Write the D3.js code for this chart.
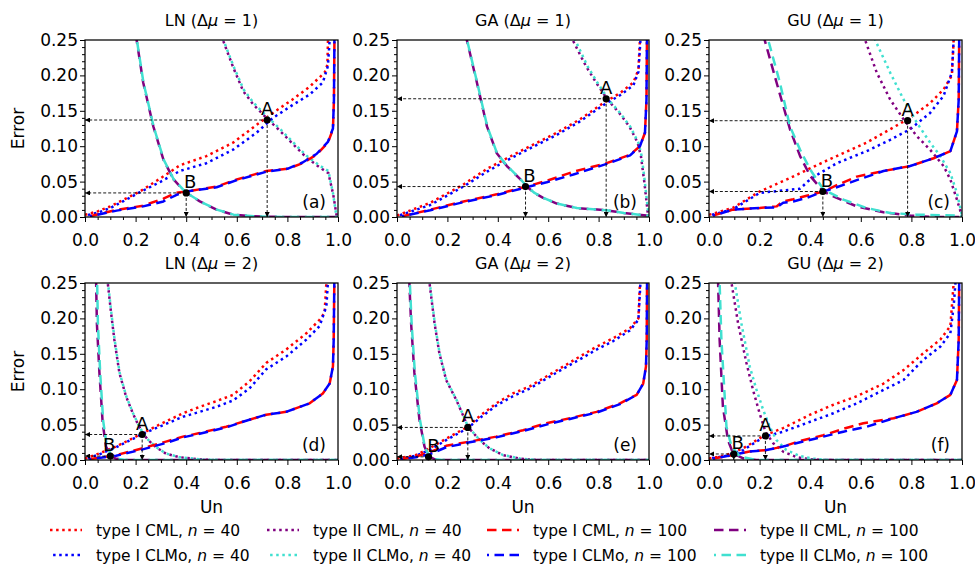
<!DOCTYPE html>
<html><head><meta charset="utf-8">
<script src="https://cdn.jsdelivr.net/npm/d3@7"></script>
<style>
body{margin:0;background:#fff}
svg{display:block;font-family:"DejaVu Sans",sans-serif}
</style>
</head><body>
<svg id="c" width="975" height="565"></svg>
<script>
// ---------------- DATA ----------------
const panelNames = ["LN", "GA", "GU", "LN", "GA", "GU"];
const deltaMu = [1, 1, 1, 2, 2, 2];
const panelTags = ["(a)", "(b)", "(c)", "(d)", "(e)", "(f)"];
const xTickValues = [0, 0.2, 0.4, 0.6, 0.8, 1.0];
const yTickValues = [0, 0.05, 0.10, 0.15, 0.20, 0.25];
const legendMethod = ["type I CML, ", "type I CLMo, ", "type II CML, ", "type II CLMo, ", "type I CML, ", "type I CLMo, ", "type II CML, ", "type II CLMo, "];
const legendN = ["40", "40", "40", "40", "100", "100", "100", "100"];

// points A and B [Un, Error]
const pointsA = [[0.72, 0.137], [0.83, 0.167], [0.785, 0.136], [0.226, 0.036], [0.281, 0.046], [0.223, 0.034]];
const pointsB = [[0.40, 0.034], [0.51, 0.043], [0.45, 0.036], [0.10, 0.0055], [0.125, 0.0045], [0.098, 0.0085]];

// Panel (a) LN, Δμ=1
const LN1_I_CML_40 = [[0,0.003],[0.05,0.008],[0.1,0.015],[0.15,0.024],[0.217,0.036],[0.3,0.055],[0.375,0.073],[0.48,0.086],[0.585,0.105],[0.678,0.13],[0.743,0.147],[0.82,0.166],[0.888,0.184],[0.947,0.204],[0.958,0.215],[0.964,0.3]];
const LN1_I_CLMo_40 = [[0,0.002],[0.05,0.006],[0.1,0.0127],[0.15,0.022],[0.217,0.035],[0.3,0.05],[0.375,0.065],[0.48,0.076],[0.585,0.095],[0.678,0.119],[0.743,0.14],[0.82,0.158],[0.888,0.173],[0.94,0.19],[0.96,0.213],[0.967,0.25],[0.969,0.3]];
const LN1_II_CML_40 = [[0.538,0.3],[0.545,0.25],[0.585,0.212],[0.625,0.178],[0.665,0.159],[0.717,0.14],[0.77,0.122],[0.822,0.103],[0.875,0.084],[0.928,0.07],[0.962,0.062],[0.981,0.032],[0.994,0.003],[1,0]];
const LN1_II_CLMo_40 = [[0.54,0.3],[0.547,0.25],[0.587,0.213],[0.627,0.18],[0.667,0.161],[0.719,0.142],[0.772,0.124],[0.824,0.105],[0.877,0.086],[0.93,0.072],[0.962,0.065],[0.98,0.034],[0.993,0.003],[1,0]];
const LN1_I_CML_100 = [[0.02,0.001],[0.125,0.01],[0.23,0.016],[0.31,0.026],[0.36,0.034],[0.4,0.036],[0.52,0.043],[0.6,0.053],[0.717,0.065],[0.8,0.068],[0.86,0.076],[0.915,0.088],[0.96,0.105],[0.98,0.124],[0.984,0.166],[0.987,0.3]];
const LN1_I_CLMo_100 = [[0.02,0.001],[0.125,0.009],[0.23,0.015],[0.31,0.022],[0.36,0.031],[0.4,0.036],[0.52,0.042],[0.6,0.052],[0.717,0.064],[0.8,0.068],[0.86,0.077],[0.915,0.089],[0.96,0.106],[0.98,0.125],[0.984,0.166],[0.987,0.3]];
const LN1_II_CML_100 = [[0.2,0.3],[0.204,0.25],[0.23,0.19],[0.27,0.128],[0.31,0.081],[0.35,0.053],[0.397,0.035],[0.454,0.022],[0.52,0.0104],[0.586,0.0033],[0.665,0.001],[0.78,0],[1,0]];
const LN1_II_CLMo_100 = [[0.201,0.3],[0.205,0.25],[0.231,0.19],[0.271,0.128],[0.311,0.081],[0.351,0.053],[0.398,0.035],[0.455,0.022],[0.521,0.0104],[0.587,0.0033],[0.666,0.001],[0.78,0],[1,0]];

// Panel (b) GA, Δμ=1
const GA1_I_CML_40 = [[0,0.002],[0.132,0.02],[0.264,0.046],[0.357,0.068],[0.436,0.083],[0.528,0.1],[0.634,0.119],[0.726,0.138],[0.819,0.161],[0.885,0.175],[0.938,0.19],[0.958,0.208],[0.964,0.25],[0.965,0.3]];
const GA1_I_CLMo_40 = [[0,0.001],[0.132,0.017],[0.264,0.043],[0.357,0.064],[0.436,0.08],[0.528,0.097],[0.634,0.116],[0.726,0.135],[0.819,0.158],[0.885,0.172],[0.938,0.186],[0.958,0.205],[0.966,0.25],[0.967,0.3]];
const GA1_II_CML_40 = [[0.69,0.3],[0.697,0.25],[0.75,0.213],[0.79,0.19],[0.835,0.166],[0.882,0.147],[0.922,0.128],[0.955,0.105],[0.968,0.086],[0.982,0.048],[0.995,0.006],[1,0]];
const GA1_II_CLMo_40 = [[0.7,0.3],[0.707,0.25],[0.756,0.213],[0.795,0.19],[0.839,0.166],[0.885,0.147],[0.925,0.128],[0.958,0.105],[0.971,0.086],[0.984,0.048],[0.997,0.006],[1,0]];
const GA1_I_CML_100 = [[0.02,0.001],[0.132,0.0104],[0.264,0.022],[0.396,0.032],[0.502,0.042],[0.594,0.051],[0.7,0.064],[0.832,0.076],[0.925,0.088],[0.964,0.1],[0.984,0.119],[0.99,0.166],[0.993,0.3]];
const GA1_I_CLMo_100 = [[0.02,0.001],[0.132,0.0095],[0.264,0.021],[0.396,0.031],[0.502,0.041],[0.594,0.049],[0.7,0.06],[0.832,0.075],[0.925,0.087],[0.964,0.1],[0.984,0.119],[0.99,0.166],[0.993,0.3]];
const GA1_II_CML_100 = [[0.273,0.3],[0.277,0.25],[0.317,0.19],[0.357,0.128],[0.396,0.09],[0.436,0.072],[0.456,0.065],[0.49,0.053],[0.515,0.043],[0.545,0.034],[0.58,0.027],[0.634,0.019],[0.713,0.0127],[0.832,0.0094],[0.9,0.0057],[0.99,0.002],[1,0.001]];
const GA1_II_CLMo_100 = [[0.274,0.3],[0.278,0.25],[0.318,0.19],[0.358,0.128],[0.397,0.09],[0.437,0.072],[0.457,0.065],[0.491,0.053],[0.516,0.043],[0.546,0.034],[0.581,0.027],[0.635,0.019],[0.714,0.0127],[0.833,0.0094],[0.9,0.0057],[0.99,0.002],[1,0.001]];

// Panel (c) GU, Δμ=1
const GU1_I_CML_40 = [[0,0.003],[0.095,0.013],[0.2,0.036],[0.32,0.055],[0.425,0.073],[0.505,0.086],[0.623,0.105],[0.716,0.124],[0.795,0.14],[0.874,0.161],[0.927,0.18],[0.96,0.2],[0.967,0.25],[0.968,0.3]];
const GU1_I_CLMo_40 = [[0,0.002],[0.095,0.011],[0.2,0.034],[0.28,0.037],[0.36,0.04],[0.39,0.05],[0.42,0.058],[0.505,0.076],[0.623,0.093],[0.716,0.109],[0.795,0.124],[0.874,0.147],[0.927,0.171],[0.96,0.204],[0.967,0.25],[0.968,0.3]];
const GU1_II_CML_40 = [[0.61,0.3],[0.617,0.25],[0.663,0.204],[0.716,0.166],[0.769,0.138],[0.822,0.114],[0.874,0.095],[0.927,0.072],[0.954,0.053],[0.98,0.0245],[1,0.001]];
const GU1_II_CLMo_40 = [[0.65,0.3],[0.657,0.25],[0.716,0.204],[0.769,0.166],[0.822,0.133],[0.874,0.105],[0.914,0.086],[0.954,0.062],[0.98,0.034],[1,0.002]];
const GU1_I_CML_100 = [[0.016,0.002],[0.095,0.0104],[0.2,0.0127],[0.267,0.015],[0.293,0.022],[0.333,0.025],[0.386,0.03],[0.452,0.036],[0.505,0.045],[0.584,0.057],[0.69,0.065],[0.795,0.072],[0.888,0.083],[0.954,0.093],[0.98,0.121],[0.987,0.166],[0.99,0.3]];
const GU1_I_CLMo_100 = [[0.016,0.002],[0.095,0.0104],[0.2,0.0127],[0.267,0.0135],[0.293,0.02],[0.333,0.022],[0.386,0.027],[0.452,0.036],[0.505,0.042],[0.584,0.052],[0.69,0.065],[0.795,0.072],[0.888,0.083],[0.954,0.093],[0.98,0.121],[0.987,0.166],[0.99,0.3]];
const GU1_II_CML_100 = [[0.217,0.3],[0.22,0.25],[0.267,0.19],[0.32,0.124],[0.36,0.086],[0.4,0.058],[0.452,0.036],[0.505,0.027],[0.584,0.015],[0.69,0.0066],[0.795,0.002],[0.89,0],[1,0]];
const GU1_II_CLMo_100 = [[0.23,0.3],[0.234,0.25],[0.28,0.19],[0.32,0.128],[0.36,0.095],[0.4,0.067],[0.452,0.039],[0.531,0.0245],[0.623,0.0127],[0.716,0.0057],[0.82,0.0033],[0.99,0.002],[1,0.001]];

// Panel (d) LN, Δμ=2
const LN2_I_CML_40 = [[0,0.002],[0.057,0.0094],[0.123,0.019],[0.19,0.031],[0.228,0.038],[0.294,0.05],[0.387,0.066],[0.453,0.075],[0.518,0.083],[0.585,0.092],[0.65,0.111],[0.716,0.137],[0.795,0.156],[0.875,0.179],[0.927,0.198],[0.947,0.208],[0.954,0.25],[0.956,0.3]];
const LN2_I_CLMo_40 = [[0,0.001],[0.057,0.008],[0.123,0.018],[0.19,0.03],[0.228,0.037],[0.294,0.047],[0.387,0.061],[0.453,0.068],[0.518,0.075],[0.585,0.084],[0.65,0.101],[0.716,0.128],[0.795,0.146],[0.875,0.17],[0.927,0.189],[0.954,0.217],[0.96,0.25],[0.962,0.3]];
const LN2_II_CML_40 = [[0.088,0.3],[0.09,0.25],[0.103,0.208],[0.116,0.17],[0.136,0.123],[0.162,0.09],[0.189,0.066],[0.21,0.05],[0.228,0.038],[0.25,0.028],[0.281,0.018],[0.32,0.009],[0.373,0.004],[0.452,0.001],[0.5,0],[1,0]];
const LN2_II_CLMo_40 = [[0.089,0.3],[0.091,0.25],[0.104,0.208],[0.117,0.17],[0.137,0.123],[0.163,0.09],[0.19,0.066],[0.211,0.05],[0.229,0.038],[0.251,0.028],[0.282,0.018],[0.321,0.009],[0.374,0.004],[0.453,0.001],[0.5,0],[1,0]];
const LN2_I_CML_100 = [[0.017,0.001],[0.123,0.007],[0.228,0.0165],[0.32,0.026],[0.387,0.033],[0.453,0.038],[0.558,0.047],[0.624,0.054],[0.716,0.064],[0.795,0.068],[0.888,0.08],[0.94,0.094],[0.967,0.108],[0.98,0.132],[0.983,0.17],[0.987,0.3]];
const LN2_I_CLMo_100 = [[0.017,0.001],[0.123,0.006],[0.228,0.015],[0.32,0.024],[0.387,0.032],[0.453,0.037],[0.558,0.046],[0.624,0.054],[0.716,0.064],[0.795,0.068],[0.888,0.08],[0.94,0.094],[0.967,0.108],[0.98,0.132],[0.983,0.17],[0.987,0.3]];
const LN2_II_CML_100 = [[0.043,0.3],[0.044,0.25],[0.047,0.193],[0.057,0.123],[0.07,0.052],[0.083,0.019],[0.1,0.007],[0.12,0.002],[0.16,0],[1,0]];
const LN2_II_CLMo_100 = [[0.047,0.3],[0.048,0.25],[0.051,0.193],[0.06,0.123],[0.072,0.055],[0.086,0.02],[0.102,0.007],[0.122,0.002],[0.16,0],[1,0]];

// Panel (e) GA, Δμ=2
const GA2_I_CML_40 = [[0,0.002],[0.076,0.007],[0.129,0.0165],[0.195,0.03],[0.281,0.047],[0.328,0.062],[0.394,0.08],[0.46,0.094],[0.527,0.104],[0.593,0.118],[0.66,0.132],[0.725,0.146],[0.792,0.16],[0.858,0.172],[0.924,0.186],[0.958,0.2],[0.964,0.25],[0.965,0.3]];
const GA2_I_CLMo_40 = [[0,0.001],[0.076,0.006],[0.129,0.014],[0.195,0.028],[0.281,0.045],[0.328,0.059],[0.394,0.077],[0.46,0.09],[0.527,0.101],[0.593,0.115],[0.66,0.129],[0.725,0.142],[0.792,0.156],[0.858,0.168],[0.924,0.183],[0.958,0.198],[0.966,0.25],[0.967,0.3]];
const GA2_II_CML_40 = [[0.127,0.3],[0.129,0.25],[0.149,0.193],[0.168,0.151],[0.195,0.113],[0.235,0.085],[0.261,0.064],[0.281,0.047],[0.328,0.028],[0.367,0.0165],[0.42,0.007],[0.487,0.002],[0.553,0],[1,0]];
const GA2_II_CLMo_40 = [[0.128,0.3],[0.13,0.25],[0.15,0.193],[0.169,0.151],[0.196,0.113],[0.236,0.085],[0.262,0.064],[0.282,0.047],[0.329,0.028],[0.368,0.0165],[0.421,0.007],[0.488,0.002],[0.553,0],[1,0]];
const GA2_I_CML_100 = [[0.016,0.001],[0.076,0.005],[0.129,0.011],[0.195,0.02],[0.288,0.026],[0.394,0.033],[0.5,0.042],[0.593,0.052],[0.686,0.059],[0.792,0.068],[0.885,0.08],[0.951,0.092],[0.977,0.108],[0.988,0.132],[0.991,0.17],[0.993,0.3]];
const GA2_I_CLMo_100 = [[0.016,0.001],[0.076,0.004],[0.129,0.008],[0.195,0.018],[0.288,0.025],[0.394,0.032],[0.5,0.041],[0.593,0.05],[0.686,0.058],[0.792,0.067],[0.885,0.079],[0.951,0.092],[0.977,0.108],[0.988,0.132],[0.991,0.17],[0.993,0.3]];
const GA2_II_CML_100 = [[0.048,0.3],[0.049,0.25],[0.056,0.193],[0.069,0.123],[0.089,0.057],[0.109,0.019],[0.126,0.005],[0.15,0.001],[0.18,0],[1,0]];
const GA2_II_CLMo_100 = [[0.05,0.3],[0.051,0.25],[0.058,0.193],[0.071,0.123],[0.091,0.057],[0.11,0.019],[0.128,0.005],[0.152,0.001],[0.18,0],[1,0]];

// Panel (f) GU, Δμ=2
const GU2_I_CML_40 = [[0,0.002],[0.069,0.007],[0.135,0.0165],[0.188,0.028],[0.22,0.035],[0.293,0.045],[0.4,0.064],[0.491,0.078],[0.584,0.09],[0.69,0.108],[0.769,0.127],[0.848,0.151],[0.914,0.17],[0.954,0.189],[0.967,0.25],[0.968,0.3]];
const GU2_I_CLMo_40 = [[0,0.002],[0.069,0.006],[0.135,0.014],[0.188,0.026],[0.22,0.033],[0.293,0.04],[0.4,0.054],[0.491,0.066],[0.584,0.08],[0.69,0.099],[0.769,0.113],[0.848,0.142],[0.914,0.16],[0.954,0.179],[0.967,0.217],[0.974,0.25],[0.975,0.3]];
const GU2_II_CML_40 = [[0.087,0.3],[0.089,0.25],[0.115,0.193],[0.148,0.137],[0.174,0.099],[0.2,0.066],[0.223,0.04],[0.254,0.0236],[0.293,0.0118],[0.346,0.004],[0.4,0.001],[0.45,0],[1,0]];
const GU2_II_CLMo_40 = [[0.1,0.3],[0.102,0.25],[0.128,0.193],[0.161,0.132],[0.188,0.099],[0.214,0.071],[0.24,0.047],[0.267,0.028],[0.306,0.014],[0.359,0.0057],[0.412,0.002],[0.46,0],[1,0]];
const GU2_I_CML_100 = [[0.016,0.002],[0.095,0.007],[0.16,0.012],[0.227,0.014],[0.293,0.019],[0.36,0.027],[0.452,0.035],[0.531,0.044],[0.61,0.052],[0.73,0.059],[0.82,0.068],[0.9,0.08],[0.954,0.092],[0.98,0.113],[0.987,0.17],[0.99,0.3]];
const GU2_I_CLMo_100 = [[0.016,0.002],[0.095,0.007],[0.16,0.012],[0.227,0.014],[0.293,0.019],[0.36,0.025],[0.452,0.033],[0.531,0.04],[0.623,0.047],[0.73,0.059],[0.82,0.068],[0.9,0.08],[0.954,0.092],[0.98,0.113],[0.987,0.17],[0.99,0.3]];
const GU2_II_CML_100 = [[0.035,0.3],[0.036,0.25],[0.042,0.17],[0.055,0.075],[0.075,0.028],[0.095,0.0094],[0.135,0.0024],[0.188,0],[1,0]];
const GU2_II_CLMo_100 = [[0.041,0.3],[0.042,0.25],[0.049,0.17],[0.069,0.047],[0.089,0.019],[0.122,0.005],[0.188,0],[1,0]];

const panelSeries = [
  [LN1_I_CML_40, LN1_I_CLMo_40, LN1_II_CML_40, LN1_II_CLMo_40, LN1_I_CML_100, LN1_I_CLMo_100, LN1_II_CML_100, LN1_II_CLMo_100],
  [GA1_I_CML_40, GA1_I_CLMo_40, GA1_II_CML_40, GA1_II_CLMo_40, GA1_I_CML_100, GA1_I_CLMo_100, GA1_II_CML_100, GA1_II_CLMo_100],
  [GU1_I_CML_40, GU1_I_CLMo_40, GU1_II_CML_40, GU1_II_CLMo_40, GU1_I_CML_100, GU1_I_CLMo_100, GU1_II_CML_100, GU1_II_CLMo_100],
  [LN2_I_CML_40, LN2_I_CLMo_40, LN2_II_CML_40, LN2_II_CLMo_40, LN2_I_CML_100, LN2_I_CLMo_100, LN2_II_CML_100, LN2_II_CLMo_100],
  [GA2_I_CML_40, GA2_I_CLMo_40, GA2_II_CML_40, GA2_II_CLMo_40, GA2_I_CML_100, GA2_I_CLMo_100, GA2_II_CML_100, GA2_II_CLMo_100],
  [GU2_I_CML_40, GU2_I_CLMo_40, GU2_II_CML_40, GU2_II_CLMo_40, GU2_I_CML_100, GU2_I_CLMo_100, GU2_II_CML_100, GU2_II_CLMo_100]
];

// ---------------- STYLE / LAYOUT ----------------
const seriesColor = ["red", "blue", "purple", "turquoise", "red", "blue", "purple", "turquoise"];
const LW = 2.5;
const DOT = "2.5,3.6", DASH = "9.5,5.5";
const seriesDash = [DOT, DOT, DOT, DOT, DASH, DASH, DASH, DASH];
const seriesOffset = [0, 3, 0, 3, 0, 7.5, 0, 7.5];
const colX = [[85, 338], [397, 649], [709, 962]];
const rowY = [[40, 217], [283, 460]];
const labelBdx = [4, 4, 4, -1, 5, 4];
const FONT = '"DejaVu Sans", sans-serif';

const svg = d3.select("#c");
const defs = svg.append("defs");
defs.append("marker").attr("id", "ah")
  .attr("viewBox", "0 0 10 10").attr("refX", 10).attr("refY", 5)
  .attr("markerWidth", 6).attr("markerHeight", 5).attr("markerUnits", "userSpaceOnUse")
  .attr("orient", "auto")
  .append("path").attr("d", "M0,0L10,5L0,10Z").attr("fill", "black");

function richText(sel, parts) {
  parts.forEach(p => {
    const t = sel.append("tspan").text(p[0]);
    if (p[1]) t.attr("font-style", "italic");
  });
  return sel;
}

const xMinor = d3.range(0, 21).filter(i => i % 4 !== 0).map(i => i * 0.05);
const yMinor = d3.range(0, 26).filter(i => i % 5 !== 0).map(i => i * 0.01);

panelSeries.forEach((series, pi) => {
  const c = pi % 3, r = Math.floor(pi / 3);
  const x = d3.scaleLinear().domain([0, 1]).range(colX[c]);
  const y = d3.scaleLinear().domain([0, 0.25]).range([rowY[r][1], rowY[r][0]]);
  const g = svg.append("g");
  const cid = "clip" + pi;
  defs.append("clipPath").attr("id", cid).append("rect")
    .attr("x", x(0)).attr("y", y(0.25)).attr("width", x(1) - x(0)).attr("height", y(0) - y(0.25));

  // minor ticks
  g.append("g").attr("transform", `translate(0,${y(0)})`)
    .call(d3.axisBottom(x).tickValues(xMinor).tickSize(3).tickFormat(""))
    .call(s => s.select(".domain").remove());
  g.append("g").attr("transform", `translate(${x(0)},0)`)
    .call(d3.axisLeft(y).tickValues(yMinor).tickSize(3).tickFormat(""))
    .call(s => s.select(".domain").remove());
  // major ticks
  const gx = g.append("g").attr("transform", `translate(0,${y(0)})`)
    .call(d3.axisBottom(x).tickValues(xTickValues).tickSize(5).tickPadding(12).tickFormat(d3.format(".1f")));
  gx.select(".domain").remove();
  gx.attr("font-family", FONT).attr("font-size", 17);
  gx.selectAll("text").attr("fill", "#000");
  const gy = g.append("g").attr("transform", `translate(${x(0)},0)`)
    .call(d3.axisLeft(y).tickValues(yTickValues).tickSize(5).tickPadding(2).tickFormat(d3.format(".2f")));
  gy.select(".domain").remove();
  gy.attr("font-family", FONT).attr("font-size", 17);
  gy.selectAll("text").attr("fill", "#000");
  g.selectAll(".tick line").attr("stroke", "#000").attr("stroke-width", 1);

  // curves
  const line = d3.line().x(d => x(d[0])).y(d => y(d[1]));
  const lg = g.append("g").attr("clip-path", `url(#${cid})`);
  series.forEach((data, si) => {
    lg.append("path").attr("d", line(data))
      .attr("fill", "none").attr("stroke", seriesColor[si]).attr("stroke-width", LW)
      .attr("stroke-dasharray", seriesDash[si]).attr("stroke-dashoffset", seriesOffset[si])
      .attr("stroke-linejoin", "round");
  });

  // annotations
  [pointsA[pi], pointsB[pi]].forEach((pt, k) => {
    const px = x(pt[0]), py = y(pt[1]);
    g.append("line").attr("x1", px).attr("y1", py).attr("x2", x(0)).attr("y2", py)
      .attr("stroke", "#000").attr("stroke-width", 0.9).attr("stroke-dasharray", "3,2")
      .attr("marker-end", "url(#ah)");
    g.append("line").attr("x1", px).attr("y1", py).attr("x2", px).attr("y2", y(0))
      .attr("stroke", "#000").attr("stroke-width", 0.9).attr("stroke-dasharray", "3,2")
      .attr("marker-end", "url(#ah)");
    g.append("circle").attr("cx", px).attr("cy", py).attr("r", 3.6).attr("fill", "#000");
    g.append("text").attr("x", px + (k === 0 ? 0 : labelBdx[pi])).attr("y", py - 5)
      .attr("text-anchor", "middle").attr("font-family", FONT).attr("font-size", 18)
      .text(k === 0 ? "A" : "B");
  });

  // panel tag
  g.append("text").attr("x", x(1) - 12).attr("y", y(0) - 9).attr("text-anchor", "end")
    .attr("font-family", FONT).attr("font-size", 17).text(panelTags[pi]);

  // frame
  g.append("rect").attr("x", x(0)).attr("y", y(0.25)).attr("width", x(1) - x(0)).attr("height", y(0) - y(0.25))
    .attr("fill", "none").attr("stroke", "#000").attr("stroke-width", 1.25);

  // title
  richText(g.append("text").attr("x", (x(0) + x(1)) / 2).attr("y", y(0.25) - 14)
    .attr("text-anchor", "middle").attr("font-family", FONT).attr("font-size", 16),
    [[panelNames[pi] + " (Δ", false], ["μ", true], [" = " + deltaMu[pi] + ")", false]]);

  if (c === 0) {
    g.append("text").attr("transform", `translate(24,${(y(0) + y(0.25)) / 2}) rotate(-90)`)
      .attr("text-anchor", "middle").attr("font-family", FONT).attr("font-size", 17).text("Error");
  }
  if (r === 1) {
    g.append("text").attr("x", (x(0) + x(1)) / 2).attr("y", y(0) + 53)
      .attr("text-anchor", "middle").attr("font-family", FONT).attr("font-size", 17).text("Un");
  }
});

// legend
const legX = [50, 267, 487, 714];
const legY = [530, 555];
const lgd = svg.append("g");
legendMethod.forEach((m, i) => {
  const col = Math.floor(i / 2), row = i % 2;
  const x0 = legX[col], yy = legY[row];
  lgd.append("line").attr("x1", x0).attr("x2", x0 + 32).attr("y1", yy).attr("y2", yy)
    .attr("stroke", seriesColor[i]).attr("stroke-width", LW)
    .attr("stroke-dasharray", seriesDash[i]).attr("stroke-dashoffset", seriesOffset[i]);
  richText(lgd.append("text").attr("x", x0 + 46).attr("y", yy + 5.5)
    .attr("font-family", FONT).attr("font-size", 15.5),
    [[m, false], ["n", true], [" = " + legendN[i], false]]);
});
</script>
</body></html>
